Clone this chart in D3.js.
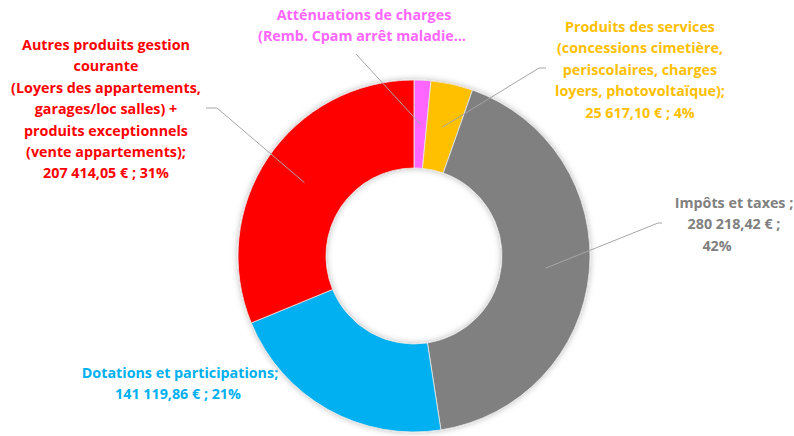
<!DOCTYPE html>
<html><head><meta charset="utf-8">
<script src="https://cdn.jsdelivr.net/npm/d3@7"></script>
<style>body{margin:0;background:#fff}svg{display:block}text{font-family:"Open Sans",Lato,sans-serif;font-weight:bold;font-size:14.3px}</style>
</head><body>
<svg id="c" width="794" height="436"></svg>
<script>
// ---- data ----
const categories = ["Atténuations de charges", "Produits des services", "Impôts et taxes", "Dotations et participations", "Autres produits gestion courante"];
const values = [10230.00, 25617.10, 280218.42, 141119.86, 207414.05];
const colors = ["#FF66FF", "#FFC000", "#808080", "#00B0F0", "#FF0000"];
const labelLines = [
  ["Atténuations de charges", "(Remb. Cpam arrêt maladie..."],
  ["Produits des services", "(concessions cimetière,", "periscolaires, charges", "loyers, photovoltaïque);", "{v} ; {p}"],
  ["Impôts et taxes ;", "{v} ;", "{p}"],
  ["Dotations et participations;", "{v} ; {p}"],
  ["Autres produits gestion", "courante", "(Loyers des appartements,", "garages/loc salles) +", "produits exceptionnels", "(vente appartements);", "{v} ; {p}"]
];

// ---- layout ----
const cx = 414, cy = 256, rOuter = 176, rInner = 88;
const labelLayout = [
  {x:[364,362], y:15, leader:[[356,54]]},
  {x:[640], y:27, leader:[[546,68],[539,68]]},
  {x:[734,734,717], y:203, leader:[[662,223],[658,223]]},
  {x:[180,178], y:373, leader:null},
  {x:[106], y:45, leader:[[206,108],[217,108]]}
];
const lineH = 21.4;

const fr = d3.formatLocale({decimal:",", thousands:"\u00a0", grouping:[3], currency:["", "\u00a0€"]});
const fmtV = fr.format("$,.2f");
const total = d3.sum(values);

const svg = d3.select("#c");
const defs = svg.append("defs");
const f = defs.append("filter").attr("id","sh").attr("x","-20%").attr("y","-20%").attr("width","140%").attr("height","140%");
f.append("feDropShadow").attr("dx",0).attr("dy",0).attr("stdDeviation",3).attr("flood-color","#000").attr("flood-opacity",0.28);

const pie = d3.pie().sort(null).value(d => d)(values);
const arc = d3.arc().innerRadius(rInner).outerRadius(rOuter);
const cen = d3.arc().innerRadius(132).outerRadius(132);

const g = svg.append("g").attr("transform", `translate(${cx},${cy})`);
g.append("g").attr("filter","url(#sh)").selectAll("path").data(pie).join("path")
  .attr("d", arc).attr("fill", (d,i) => colors[i])
  .attr("stroke", "#e8e8e8").attr("stroke-width", 0.8);

// leaders
pie.forEach((d,i) => {
  const L = labelLayout[i];
  if (!L.leader) return;
  const c = cen.centroid(d);
  const pts = L.leader.concat([[c[0]+cx, c[1]+cy]]);
  svg.append("path").attr("d", d3.line()(pts)).attr("fill","none")
    .attr("stroke","#a6a6a6").attr("stroke-width",1);
});

// labels
pie.forEach((d,i) => {
  const L = labelLayout[i];
  const pct = Math.round(values[i]/total*100) + "%";
  const lines = labelLines[i].map(s => s.replace("{v}", fmtV(values[i])).replace("{p}", pct));
  const t = svg.append("text").attr("fill", colors[i]).attr("text-anchor","middle");
  lines.forEach((s,k) => {
    t.append("tspan").attr("x", L.x[Math.min(k, L.x.length-1)]).attr("y", L.y + 5 + k*lineH).text(s);
  });
});
</script>
</body></html>
